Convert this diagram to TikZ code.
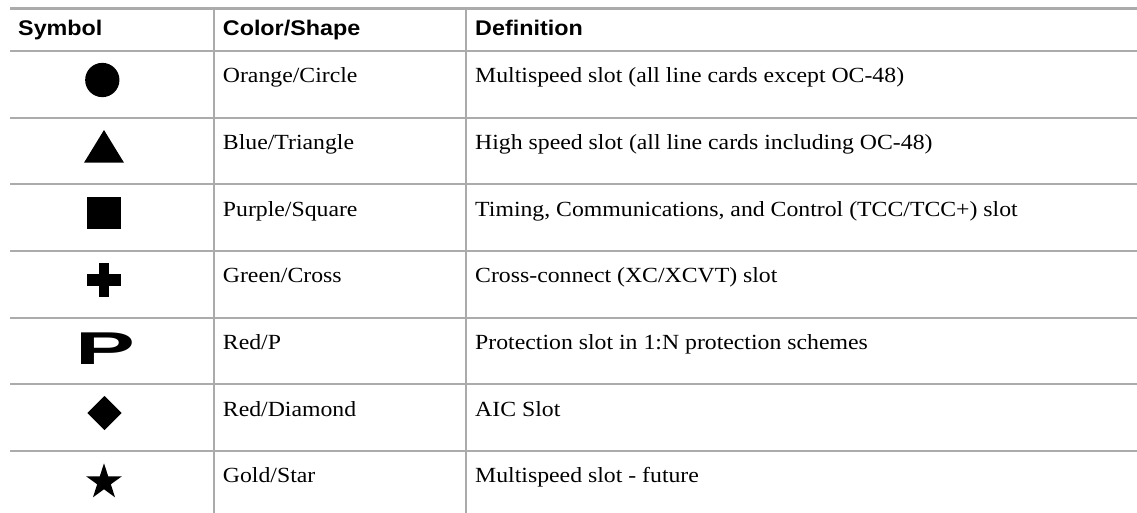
\documentclass[tikz,border=0pt]{standalone}
\usepackage{fontspec}
\setmainfont{Liberation Serif}
\newfontfamily\hdrfont{Liberation Sans}
\usetikzlibrary{shapes.geometric}
\definecolor{rulegray}{HTML}{ABABAB}
\tikzset{
  rule/.style={draw=rulegray, line width=2.3pt},
  hdr/.style={anchor=base west, inner sep=0pt, font=\hdrfont\bfseries\fontsize{21.2}{22}\selectfont, xscale=1.1},
  cell/.style={anchor=base west, inner sep=0pt, font=\fontsize{21.6}{22}\selectfont, xscale=1.1},
  sym/.style={fill=black, draw=none, inner sep=0pt, outer sep=0pt}
}
\begin{document}
\begin{tikzpicture}[x=1pt,y=-1pt]
\useasboundingbox (0,0) rectangle (1137,513);
% grid lines
\coordinate (tl) at (10,8.5);
\coordinate (tr) at (1137,8.5);
\draw[rule] (tl) -- (tr);
\foreach \yy/\nm in {51/h,117.7/r1,184.3/r2,251/r3,317.7/r4,384.3/r5,451/r6}{
  \coordinate (\nm L) at (10,\yy);
  \coordinate (\nm R) at (1137,\yy);
  \draw[rule] (\nm L) -- (\nm R);
}
\coordinate (c1t) at (213.7,8.5);
\coordinate (c1b) at (213.7,513);
\coordinate (c2t) at (465.7,8.5);
\coordinate (c2b) at (465.7,513);
\draw[rule] (c1t) -- (c1b);
\draw[rule] (c2t) -- (c2b);
% header
\node[hdr] (hs) at (18,36) {Symbol};
\node[hdr] (hc) at (222.7,36) {Color/Shape};
\node[hdr] (hd) at (475,36) {Definition};
% rows
\node[cell] (c1) at (222.7,82.7) {Orange/Circle};
\node[cell] (d1) at (475,82.7) {Multispeed slot (all line cards except OC-48)};
\node[cell] (c2) at (222.7,149.4) {Blue/Triangle};
\node[cell] (d2) at (475,149.4) {High speed slot (all line cards including OC-48)};
\node[cell] (c3) at (222.7,216) {Purple/Square};
\node[cell] (d3) at (475,216) {Timing, Communications, and Control (TCC/TCC+) slot};
\node[cell] (c4) at (222.7,282.7) {Green/Cross};
\node[cell] (d4) at (475,282.7) {Cross-connect (XC/XCVT) slot};
\node[cell] (c5) at (222.7,349.4) {Red/P};
\node[cell] (d5) at (475,349.4) {Protection slot in 1:N protection schemes};
\node[cell] (c6) at (222.7,416) {Red/Diamond};
\node[cell] (d6) at (475,416) {AIC Slot};
\node[cell] (c7) at (222.7,482.7) {Gold/Star};
\node[cell] (d7) at (475,482.7) {Multispeed slot - future};
% symbols
\node[sym, circle, minimum size=34.3pt] (s1) at (102.3,80) {};
\fill (84,162.7) -- (104,130) -- (124,162.7) -- cycle;
\fill (87.3,196.7) rectangle (120.7,229.3);
\fill (99,263.3) rectangle (109.3,296.7);
\fill (87.3,274) rectangle (120.7,286);
\node[inner sep=0pt, anchor=base] (s5) at (105.5,364) {\scalebox{1.95}[1]{\hdrfont\bfseries\fontsize{46}{46}\selectfont P}};
\fill (104.5,396) -- (121.7,413) -- (104.5,430) -- (87.3,413) -- cycle;
\node[sym, star, star points=5, star point ratio=2.618, minimum size=37.6pt] (s7) at (104,482.1) {};
\end{tikzpicture}
\end{document}
